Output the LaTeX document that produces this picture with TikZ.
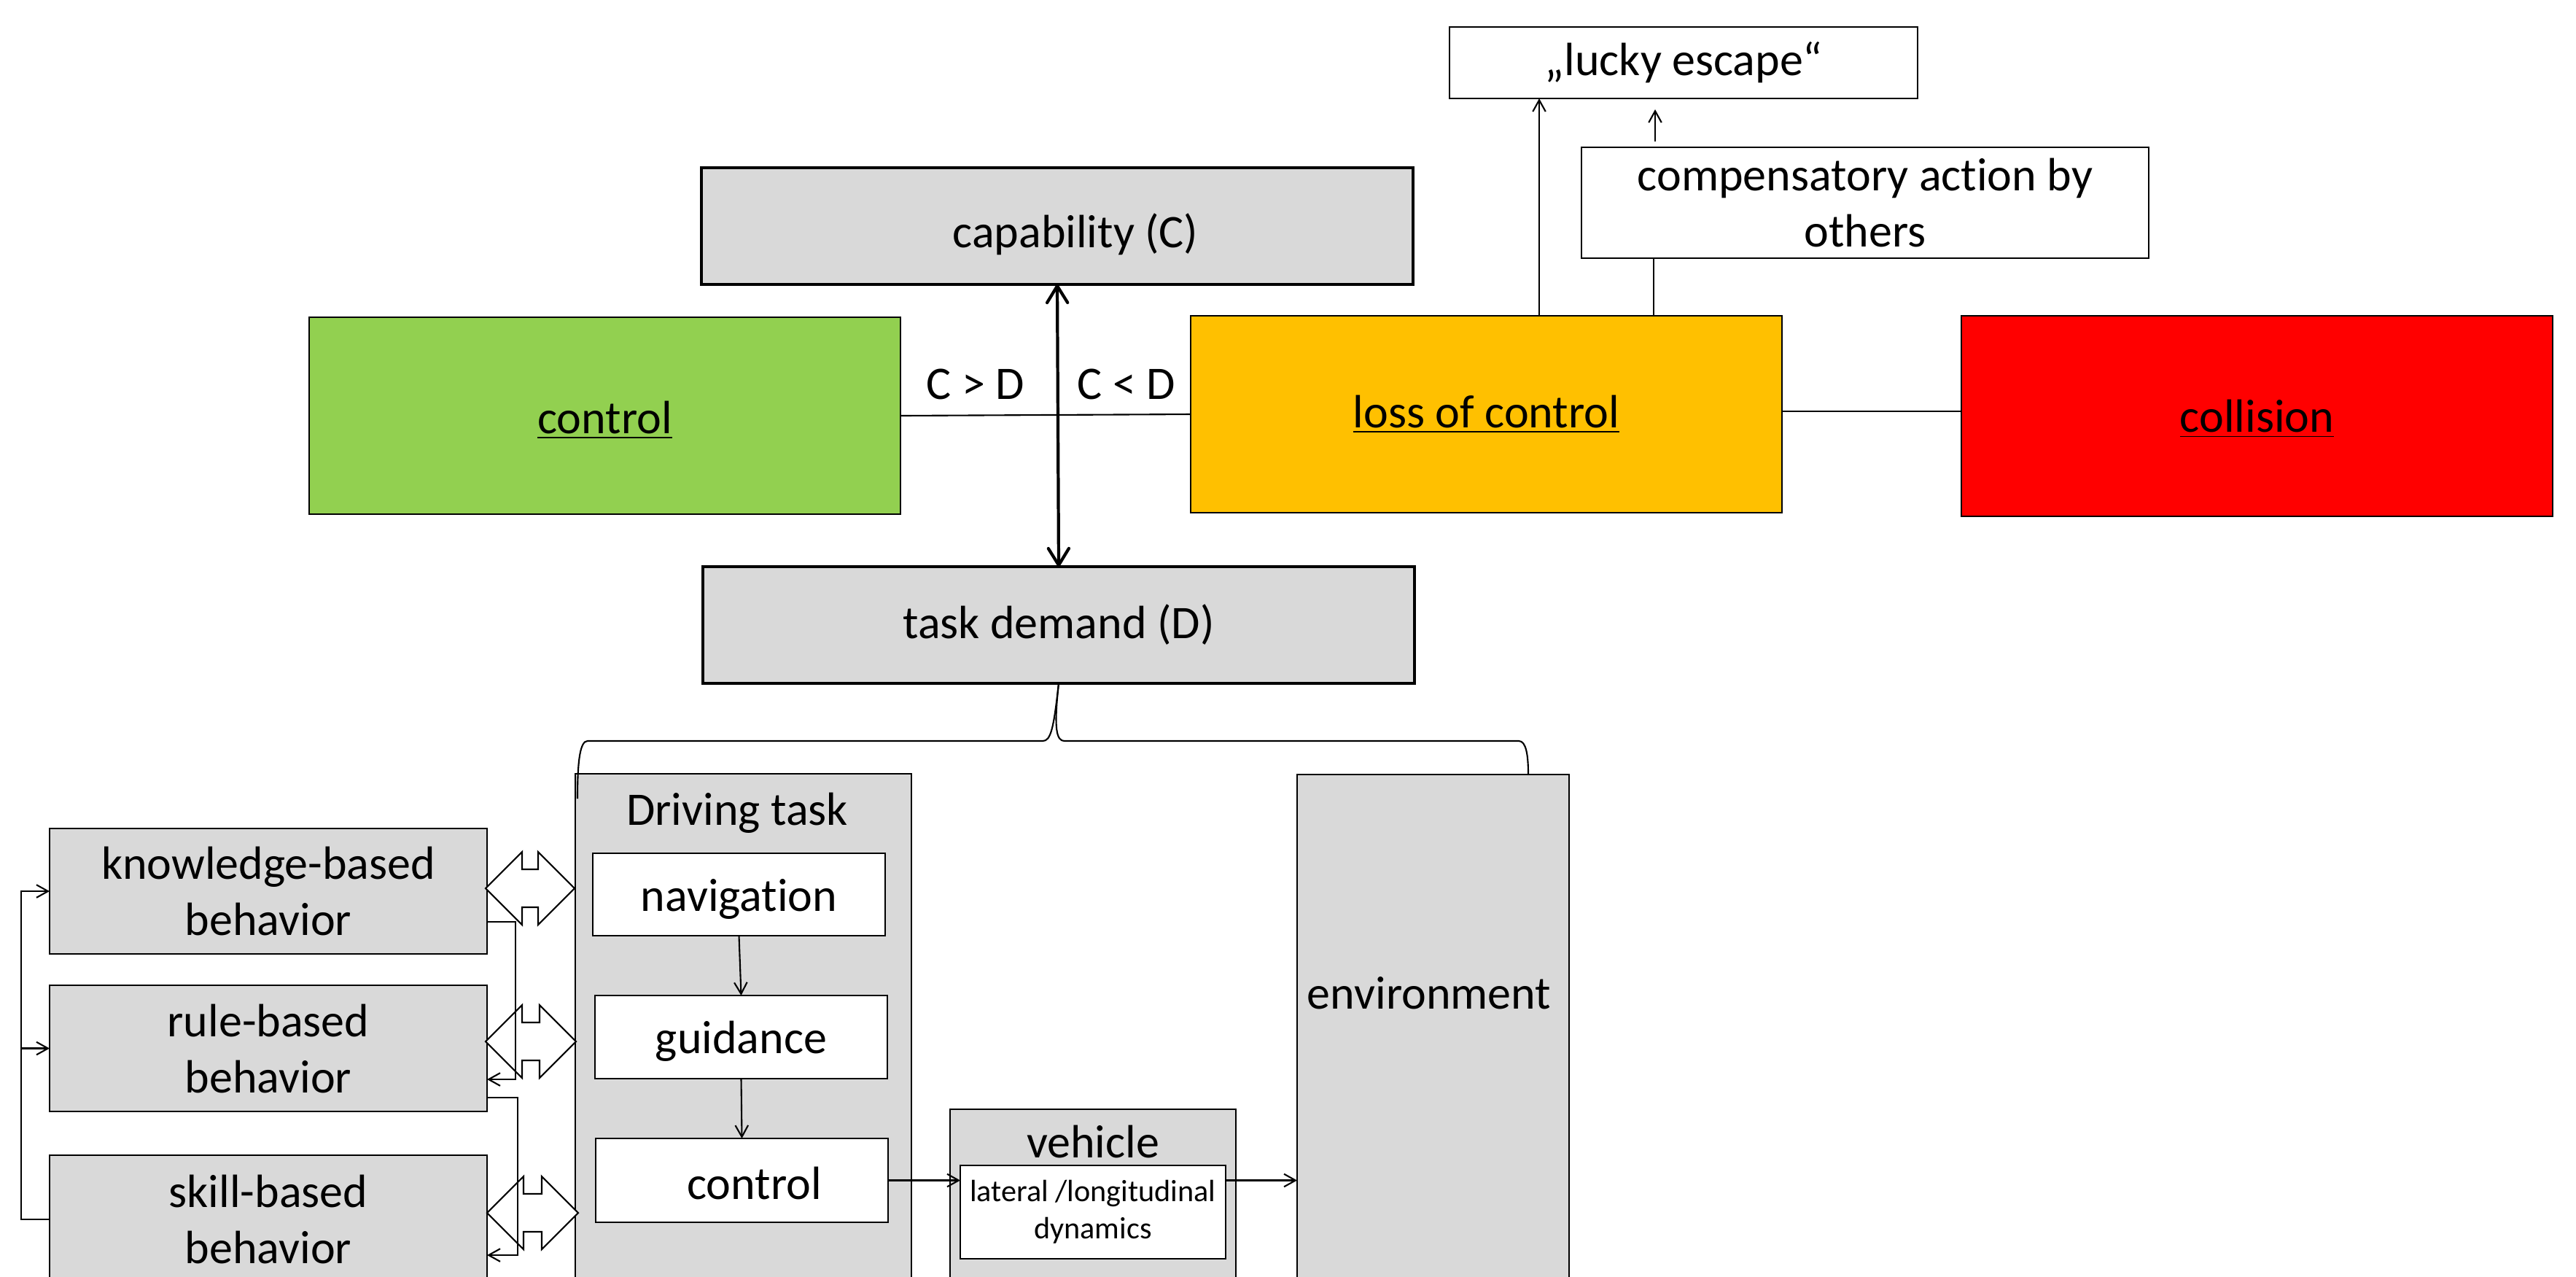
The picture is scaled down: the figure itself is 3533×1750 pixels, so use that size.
\documentclass[tikz,border=0pt]{standalone}
\usepackage{fontspec}
\setmainfont{Carlito}[Ligatures=NoCommon]
\usetikzlibrary{arrows.meta}
\definecolor{boxgray}{HTML}{D9D9D9}
\definecolor{okgreen}{HTML}{92D050}
\definecolor{warnorange}{HTML}{FFC000}
\definecolor{dangerred}{HTML}{FF0000}
\begin{document}
\begin{tikzpicture}[x=0.01cm,y=-0.01cm,
  sz/.style 2 args={minimum width=#1*0.01cm, minimum height=#2*0.01cm},
  base/.style={draw=black, line width=0.6pt, inner sep=0pt, outer sep=0pt, align=center, font=\fontsize{18.2}{21.9}\selectfont},
  graybox/.style={base, fill=boxgray},
  whitebox/.style={base, fill=white},
  thickbox/.style={graybox, line width=1.4pt},
  lbl/.style={inner sep=0pt, align=center, font=\fontsize{18.2}{21.9}\selectfont},
  ln/.style={line width=0.6pt},
  arr/.style={ln, -{Straight Barb[length=4.5pt,width=5pt]}},
  bigarr/.style={line width=1.2pt, {Straight Barb[length=6.5pt,width=8pt,round]}-{Straight Barb[length=6.5pt,width=8pt,round]}}
]
\fill[white] (0,0) rectangle (3533,1750);
\clip (0,0) rectangle (3533,1750);

% top part
\node[whitebox, sz={642}{98}] (lucky) at (2309,86) {„lucky escape“};
\node[whitebox, sz={778}{152}] (comp) at (2558,278) {compensatory action by\\others};
\node[thickbox, sz={976}{160}] (cap) at (1450,310) {};
\node[lbl] (caplbl) at ([xshift=0.25cm,yshift=-0.11cm]cap.center) {capability (C)};
\node[base, fill=okgreen, sz={811}{270}] (green) at (829.5,570) {};
\node[lbl] (greenlbl) at ([yshift=-0.06cm]green.center) {\underline{control}};
\node[base, fill=warnorange, sz={811}{270}] (loss) at (2038.5,568) {\underline{loss of control}};
\node[base, fill=dangerred, sz={811}{275}] (coll) at (3095.5,570.5) {};
\node[lbl] (colllbl) at ([yshift=-0.04cm]coll.center) {\underline{collision}};
\node[thickbox, sz={976}{160}] (task) at (1452,857) {task demand (D)};
\node[lbl] (cgt) at (1338,527) {C > D};
\node[lbl] (clt) at (1545,527) {C < D};

% lower part
\node[graybox, sz={461}{720}] (drive) at (1019.5,1421) {};
\node[lbl] (drivelbl) at (1011,1115) {Driving task};
\node[graybox, sz={373}{720}] (env) at (1965.5,1422) {};
\node[lbl] (envlbl) at (1960,1362) {environment};
\node[graybox, sz={392}{260}] (veh) at (1499,1651) {};
\node[lbl] (vehlbl) at (1499,1565) {vehicle};
\node[whitebox, sz={364}{128}, font=\fontsize{12}{14.4}\selectfont] (lat) at (1499,1662) {lateral /longitudinal\\dynamics};
\node[whitebox, sz={401}{113}] (nav) at (1013.5,1226.5) {};
\node[lbl] (navlbl) at ([yshift=-0.06cm]nav.center) {navigation};
\node[whitebox, sz={401}{114}] (guid) at (1016.5,1422) {};
\node[lbl] (guidlbl) at ([yshift=-0.06cm]guid.center) {guidance};
\node[whitebox, sz={401}{115}] (ctrl) at (1017.5,1618.5) {};
\node[lbl] (ctrllbl) at ([xshift=0.17cm,yshift=-0.04cm]ctrl.center) {control};
\node[graybox, sz={600}{172}] (know) at (368,1222) {knowledge-based\\behavior};
\node[graybox, sz={600}{173}] (rule) at (368,1437.5) {rule-based\\behavior};
\node[graybox, sz={600}{176}] (skill) at (368,1672) {skill-based\\behavior};

% block double arrows
\foreach \yc/\xl/\xr in {1218/666/788, 1428/666/790, 1663/668/793}{
  \draw[ln, fill=white] (\xl,\yc) -- ({\xl+50},{\yc-50}) -- ({\xl+50},{\yc-26}) -- ({\xr-50},{\yc-26})
    -- ({\xr-50},{\yc-50}) -- (\xr,\yc) -- ({\xr-50},{\yc+50}) -- ({\xr-50},{\yc+26})
    -- ({\xl+50},{\yc+26}) -- ({\xl+50},{\yc+50}) -- cycle;
}

% feedback lines
\coordinate (fbl) at (29,1672);
\draw[arr] (skill.west) -- (fbl) |- (know.west);
\draw[arr] (fbl |- rule.west) -- (rule.west);
\draw[arr] (know.east |- 0,1264) -| (707,1480) -- (rule.east |- 0,1480);
\draw[arr] (rule.east |- 0,1505) -| (710,1721) -- (skill.east |- 0,1721);

% top connectors
\draw[bigarr] (cap.south) -- (task.north);
\draw[ln] (green.east) -- (loss.west);
\draw[ln] (loss.east |- 0,564) -- (coll.west |- 0,564);
\draw[arr] (loss.north -| 2111,0) -- (lucky.south -| 2111,0);
\draw[ln] (loss.north -| 2268,0) -- (comp.south -| 2268,0);
\coordinate (cs) at (2270,194);
\coordinate (ce) at (2270,150);
\draw[arr] (cs) -- (ce);

% brace
\draw[ln] (task.south) .. controls (1445,1000) and (1441,1016) .. (1430,1016) -- (806,1016)
  .. controls (796,1016) and (792,1040) .. (792,1095);
\draw[ln] (task.south) .. controls (1445,1000) and (1449,1016) .. (1460,1016) -- (2083,1016)
  .. controls (2093,1016) and (2096,1035) .. (2096,1062);

% driving task flow
\draw[arr] (nav.south) -- (guid.north);
\draw[arr] (guid.south) -- (ctrl.north);
\draw[arr] (ctrl.east) -- (ctrl.east -| lat.west);
\draw[arr] (lat.east |- ctrl.east) -- (env.west |- ctrl.east);
\end{tikzpicture}
\end{document}
